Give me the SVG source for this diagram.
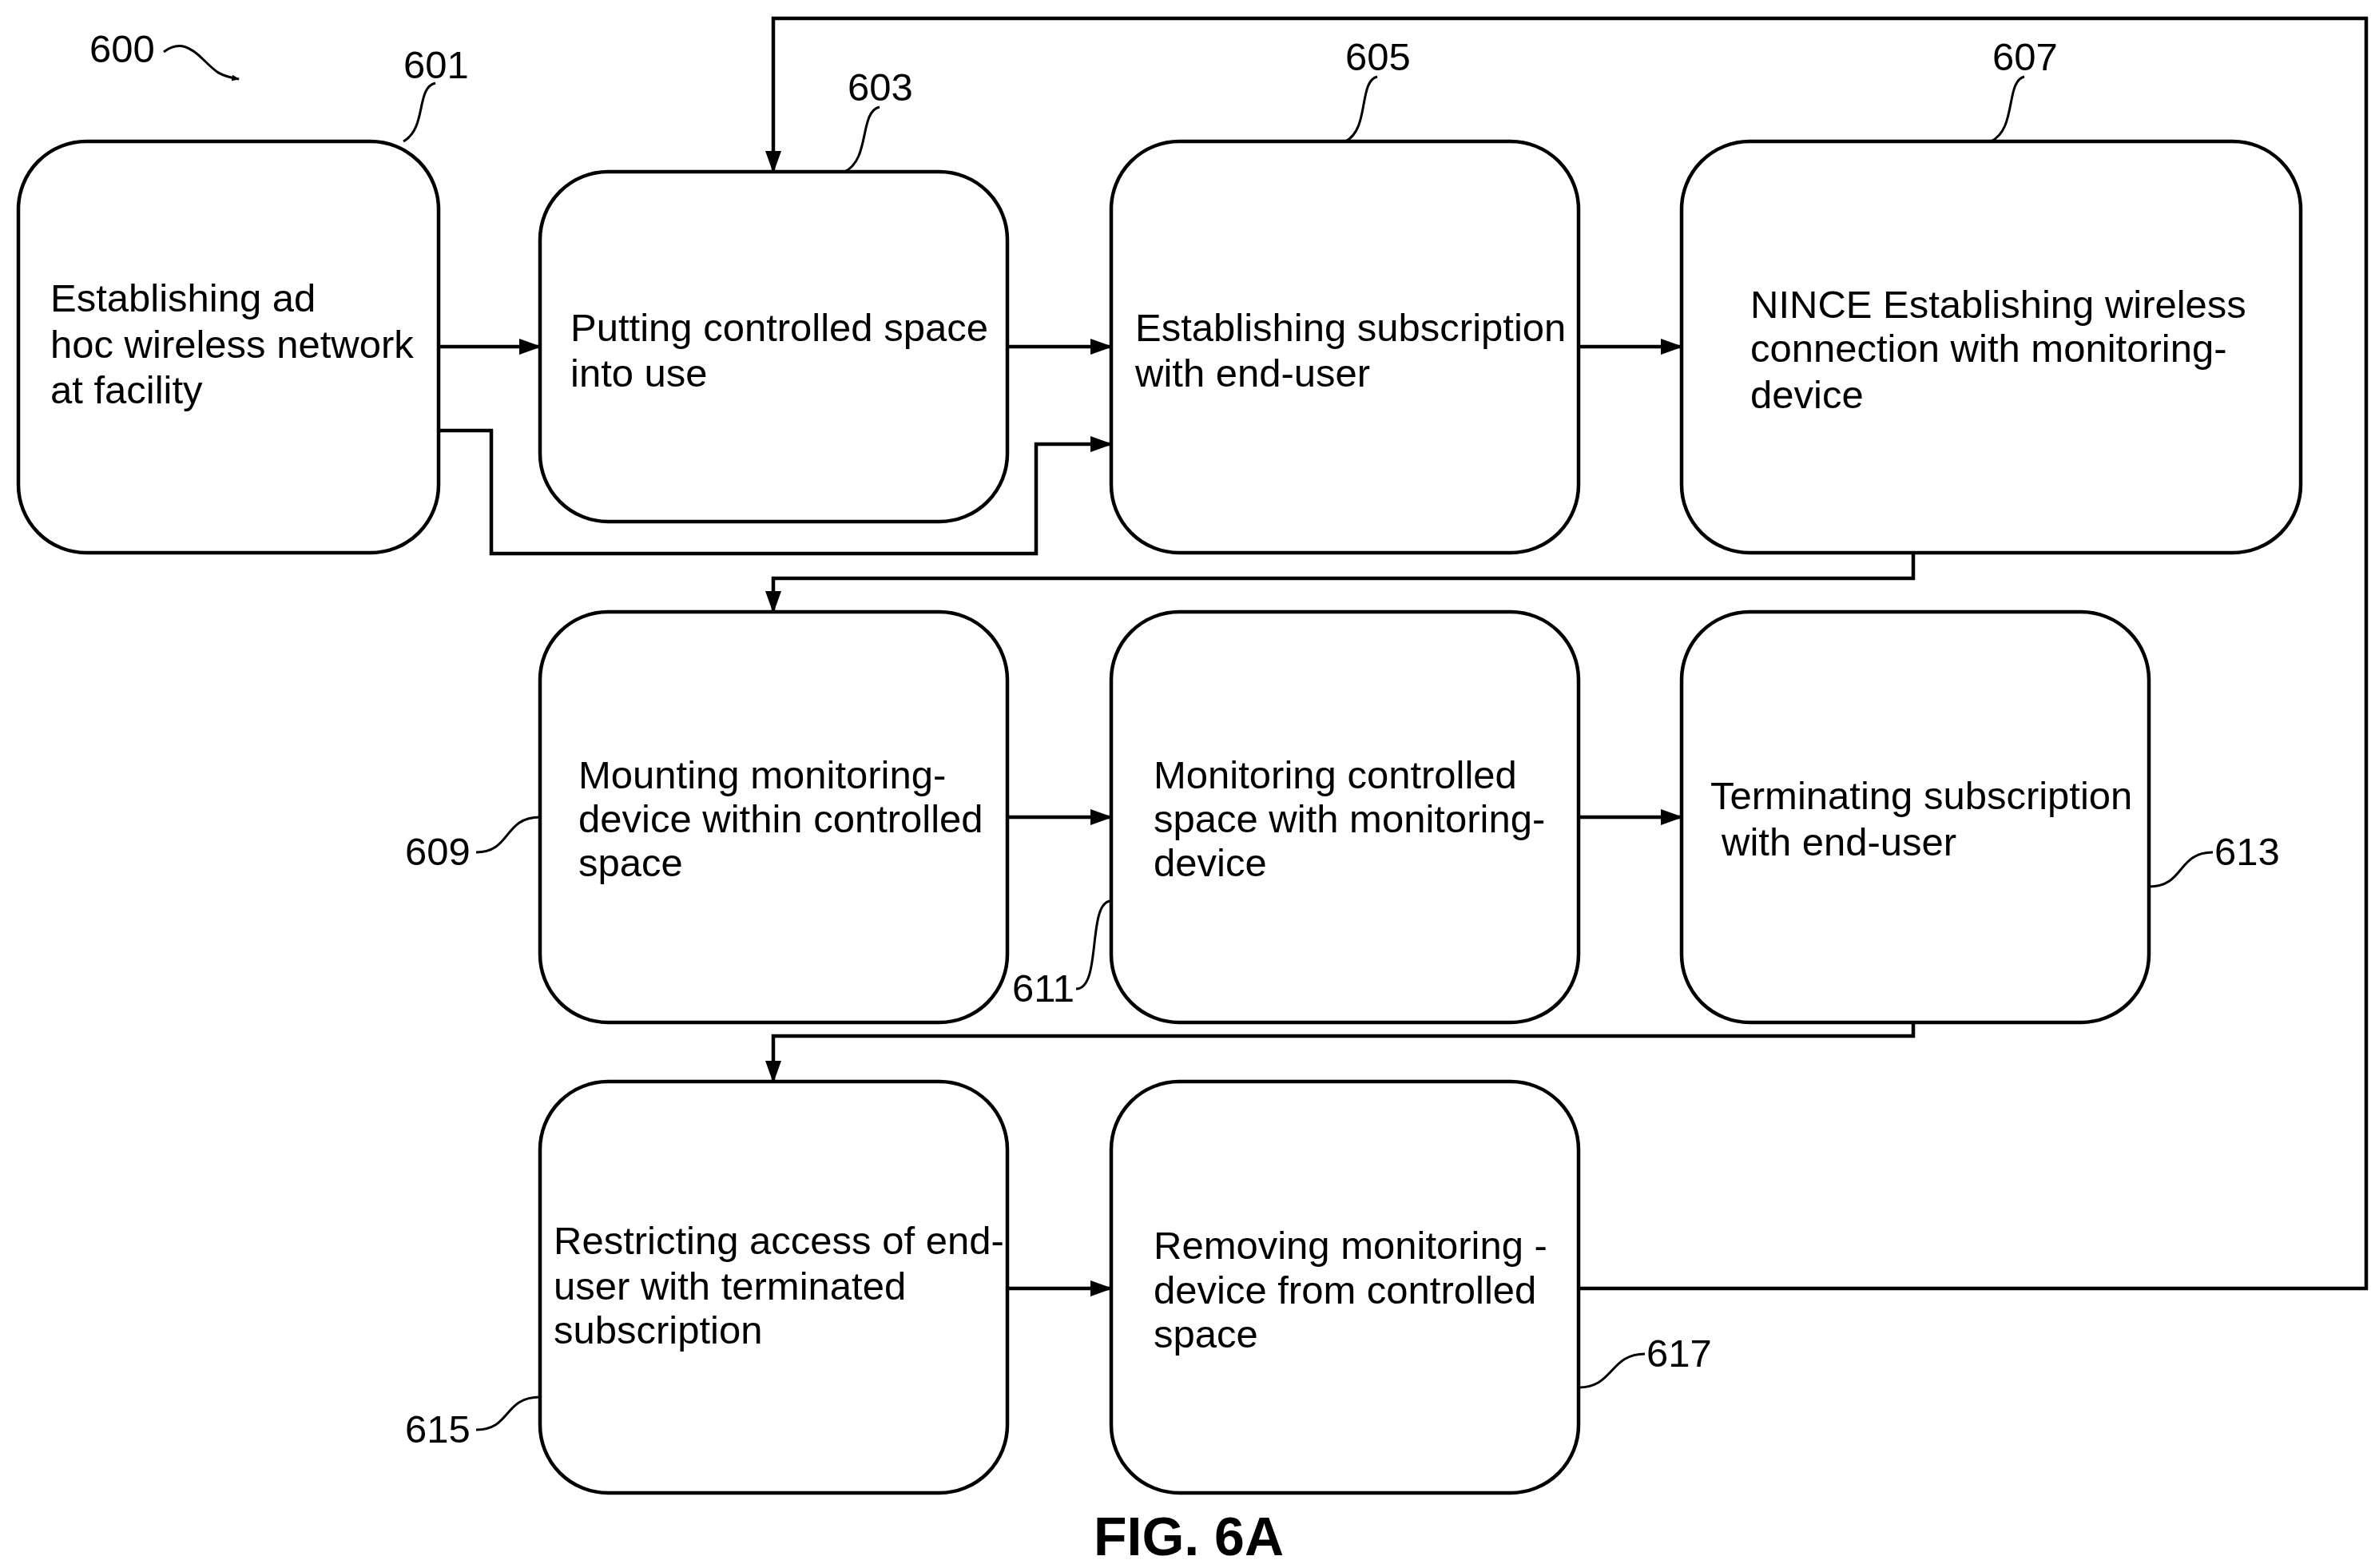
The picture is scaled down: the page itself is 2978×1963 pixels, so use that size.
<svg xmlns="http://www.w3.org/2000/svg" width="2978" height="1963" viewBox="0 0 2978 1963">
<style>
.b{fill:#fff;stroke:#000;stroke-width:4.5}
.t{font-family:"Liberation Sans",Arial,sans-serif;font-size:49px;fill:#000}
.c{fill:none;stroke:#000;stroke-width:4.5}
.l{fill:none;stroke:#000;stroke-width:3}
</style>
<defs><marker id="a" markerWidth="10" markerHeight="8" refX="9" refY="4" orient="auto" markerUnits="userSpaceOnUse" viewBox="0 0 10 8"><path d="M0,0L10,4L0,8z"/></marker>
<marker id="A" markerWidth="28" markerHeight="20" refX="26" refY="10" orient="auto" markerUnits="userSpaceOnUse"><path d="M0,0L28,10L0,20z"/></marker></defs>
<rect width="2978" height="1963" fill="#fff"/>
<g id="connectors">
<path class="c" d="M549,434H676" marker-end="url(#A)"/>
<path class="c" d="M549,539H615V693H1297V556H1391" marker-end="url(#A)"/>
<path class="c" d="M1261,434H1391" marker-end="url(#A)"/>
<path class="c" d="M1976,434H2105" marker-end="url(#A)"/>
<path class="c" d="M2395,692V724H968V766" marker-end="url(#A)"/>
<path class="c" d="M1261,1023H1391" marker-end="url(#A)"/>
<path class="c" d="M1976,1023H2105" marker-end="url(#A)"/>
<path class="c" d="M2395,1280V1297H968V1354" marker-end="url(#A)"/>
<path class="c" d="M1261,1613H1391" marker-end="url(#A)"/>
<path class="c" d="M1976,1613H2962V23H968V215" marker-end="url(#A)"/>
</g>
<g id="n601"><rect class="b" x="23" y="177" width="526" height="515" rx="85"/><text class="t"><tspan x="63" y="390">Establishing ad</tspan><tspan x="63" y="448">hoc wireless network</tspan><tspan x="63" y="505">at facility</tspan></text></g>
<g id="n603"><rect class="b" x="676" y="215" width="585" height="438" rx="85"/><text class="t"><tspan x="714" y="427">Putting controlled space</tspan><tspan x="714" y="484">into use</tspan></text></g>
<g id="n605"><rect class="b" x="1391" y="177" width="585" height="515" rx="85"/><text class="t"><tspan x="1421" y="427">Establishing subscription</tspan><tspan x="1421" y="484">with end-user</tspan></text></g>
<g id="n607"><rect class="b" x="2105" y="177" width="775" height="515" rx="85"/><text class="t"><tspan x="2191" y="398">NINCE Establishing wireless</tspan><tspan x="2191" y="453">connection with monitoring-</tspan><tspan x="2191" y="511">device</tspan></text></g>
<g id="n609"><rect class="b" x="676" y="766" width="585" height="514" rx="85"/><text class="t"><tspan x="724" y="987">Mounting monitoring-</tspan><tspan x="724" y="1042">device within controlled</tspan><tspan x="724" y="1097">space</tspan></text></g>
<g id="n611"><rect class="b" x="1391" y="766" width="585" height="514" rx="85"/><text class="t"><tspan x="1444" y="987">Monitoring controlled</tspan><tspan x="1444" y="1042">space with monitoring-</tspan><tspan x="1444" y="1097">device</tspan></text></g>
<g id="n613"><rect class="b" x="2105" y="766" width="585" height="514" rx="85"/><text class="t"><tspan x="2141" y="1013">Terminating subscription</tspan><tspan x="2155" y="1071">with end-user</tspan></text></g>
<g id="n615"><rect class="b" x="676" y="1354" width="585" height="515" rx="85"/><text class="t"><tspan x="693" y="1570">Restricting access of end-</tspan><tspan x="693" y="1627">user with terminated</tspan><tspan x="693" y="1682">subscription</tspan></text></g>
<g id="n617"><rect class="b" x="1391" y="1354" width="585" height="515" rx="85"/><text class="t"><tspan x="1444" y="1576">Removing monitoring -</tspan><tspan x="1444" y="1632">device from controlled</tspan><tspan x="1444" y="1687">space</tspan></text></g>
<g id="labels" class="t">
<text x="112" y="78">600</text>
<path class="l" d="M205,65C225,50 240,60 255,75S275,95 299,99" marker-end="url(#a)"/>
<text x="505" y="98">601</text>
<path class="l" d="M545,104C520,110 535,160 505,177"/>
<text x="1061" y="126">603</text>
<path class="l" d="M1101,134C1075,140 1090,200 1057,215"/>
<text x="1684" y="88">605</text>
<path class="l" d="M1724,96C1700,102 1715,162 1684,177"/>
<text x="2494" y="88">607</text>
<path class="l" d="M2534,96C2510,102 2525,162 2492,177"/>
<text x="507" y="1083">609</text>
<path class="l" d="M596,1067C640,1067 630,1023 676,1023"/>
<text x="1267" y="1254">611</text>
<path class="l" d="M1347,1238C1380,1238 1360,1128 1391,1128"/>
<text x="2772" y="1083">613</text>
<path class="l" d="M2690,1110C2735,1110 2725,1067 2770,1067"/>
<text x="507" y="1806">615</text>
<path class="l" d="M596,1790C640,1790 630,1749 676,1749"/>
<text x="2061" y="1711">617</text>
<path class="l" d="M1976,1737C2020,1737 2015,1695 2059,1695"/>
</g>
<text x="1488" y="1947" text-anchor="middle" style="font-family:'Liberation Sans',Arial,sans-serif;font-size:68px;font-weight:bold">FIG. 6A</text>
</svg>
